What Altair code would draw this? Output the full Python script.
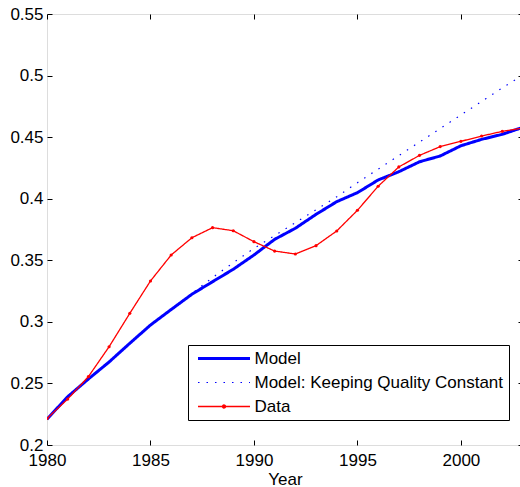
import altair as alt
import pandas as pd

years = list(range(1980, 2004))
model = [0.221, 0.2392, 0.2536, 0.2674, 0.2826, 0.2974, 0.3100, 0.3224, 0.3326, 0.3427,
         0.3543, 0.3670, 0.3760, 0.3873, 0.3976, 0.4049, 0.4152, 0.4219, 0.4300, 0.4347,
         0.4430, 0.4482, 0.4523, 0.4580]
quality = [0.221, 0.2392, 0.2536, 0.2674, 0.2826, 0.2974, 0.3100, 0.3230, 0.3360, 0.3480,
           0.3597, 0.3700, 0.3805, 0.3910, 0.4016, 0.4130, 0.4240, 0.4350, 0.4460, 0.4570,
           0.4680, 0.4790, 0.4900, 0.5005]
observed = [0.2215, 0.2373, 0.2555, 0.2798, 0.3069, 0.3332, 0.3543, 0.3683, 0.3765, 0.3740,
            0.3651, 0.3575, 0.3551, 0.3619, 0.3738, 0.3906, 0.4101, 0.4258, 0.4352, 0.4423,
            0.4466, 0.4509, 0.4547, 0.4574]

series_names = ["Model", "Model: Keeping Quality Constant", "Data"]
x_ticks = [1980, 1985, 1990, 1995, 2000]
y_ticks = [0.2, 0.25, 0.3, 0.35, 0.4, 0.45, 0.5, 0.55]

rows = []
for name, vals in zip(series_names, [model, quality, observed]):
    for yr, v in zip(years, vals):
        rows.append({"Year": yr, "value": v, "series": name})
df = pd.DataFrame(rows)

FONT = "Liberation Sans"

xscale = alt.Scale(domain=[1980, 2003], nice=False, zero=False)
yscale = alt.Scale(domain=[0.2, 0.55], nice=False, zero=False)
color_scale = alt.Scale(domain=series_names, range=["#0000ff", "#0000ff", "#ff0000"])
dash_scale = alt.Scale(domain=series_names, range=[[1, 0], [1.5, 7], [1, 0]])

legend = alt.Legend(
    title=None, orient="none", legendX=141, legendY=331, padding=5,
    strokeColor="black", fillColor="white",
    labelFont=FONT, labelFontSize=17, labelColor="black", labelLimit=0,
    symbolSize=100,
    symbolType=alt.ExprRef(
        "datum.value === 'Data' ? 'M-5.2,0H5.2M-0.3,0A0.3,0.3,0,1,0,0.3,0A0.3,0.3,0,1,0,-0.3,0' : 'M-5.2,0H5.2'"),
    symbolStrokeWidth=alt.ExprRef(
        "datum.value === 'Model' ? 3 : (datum.value === 'Data' ? 1.3 : 1.2)"),
    symbolOffset=22.5, labelOffset=22, rowPadding=6,
)

x_main = alt.Axis(values=x_ticks, format="d", orient="bottom", offset=-5, tickSize=5,
                  domain=False, grid=False, labelPadding=7, labelFlush=False, title="Year",
                  labelFont=FONT, labelFontSize=17, labelColor="black",
                  titleFont=FONT, titleFontSize=17, titleFontWeight="normal",
                  titleColor="black", titlePadding=3, tickColor="black", titleX=238)
y_main = alt.Axis(values=y_ticks, format=".2~f", orient="left", offset=-5, tickSize=5,
                  domain=False, grid=False, labelPadding=4, labelFlush=False, title=None,
                  labelFont=FONT, labelFontSize=17, labelColor="black", tickColor="black")
x_top = alt.Axis(values=x_ticks, orient="top", offset=-5, tickSize=5, domain=False,
                 grid=False, labels=False, title=None, tickColor="black")
y_right = alt.Axis(values=y_ticks, orient="right", offset=-5, tickSize=5, domain=False,
                   grid=False, labels=False, title=None, tickColor="black")

base = alt.Chart(df)

def line_layer(name, width, xaxis, yaxis):
    return base.transform_filter(alt.datum.series == name).mark_line(
        strokeWidth=width, clip=True
    ).encode(
        x=alt.X("Year:Q", scale=xscale, axis=xaxis),
        y=alt.Y("value:Q", scale=yscale, axis=yaxis),
        color=alt.Color("series:N", scale=color_scale, legend=legend),
        strokeDash=alt.StrokeDash("series:N", scale=dash_scale, legend=legend),
    )

l_model = line_layer("Model", 3, x_main, y_main)
l_quality = line_layer("Model: Keeping Quality Constant", 1.2, None, None)
l_data = line_layer("Data", 1.3, None, None)
p_data = base.transform_filter(alt.datum.series == "Data").mark_point(
    filled=True, size=10, opacity=1, color="#ff0000", clip=True
).encode(
    x=alt.X("Year:Q", scale=xscale, axis=x_top),
    y=alt.Y("value:Q", scale=yscale, axis=y_right),
)

chart = alt.layer(l_model, l_quality, l_data, p_data).resolve_axis(
    x="independent", y="independent"
).properties(
    width=476, height=431,
    autosize=alt.AutoSizeParams(type="none"),
    padding={"left": 47, "top": 14, "right": -3, "bottom": 42},
).configure_view(stroke="black", strokeWidth=1).configure(background="white")

chart.save("out.html", embed_options={"renderer": "svg", "actions": False})
